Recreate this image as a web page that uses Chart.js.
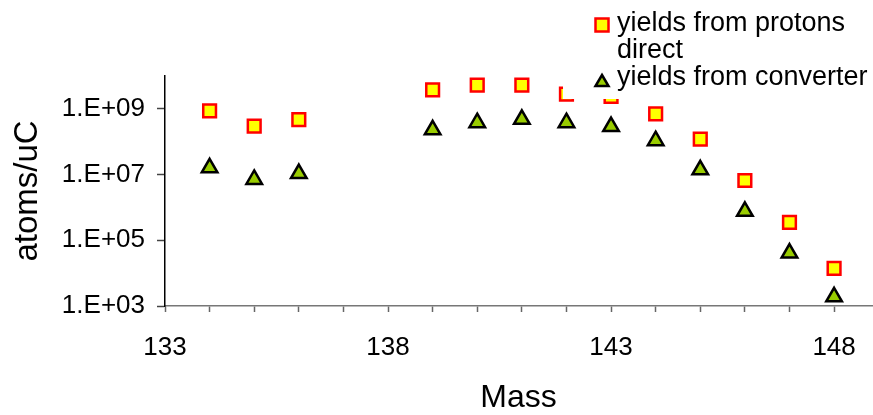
<!DOCTYPE html>
<html>
<head>
<meta charset="utf-8">
<script src="https://cdn.jsdelivr.net/npm/chart.js@4.4.1/dist/chart.umd.min.js"></script>
<style>
  html, body { margin: 0; padding: 0; background: #fff; }
  #wrap { width: 873px; height: 415px; position: relative; }
</style>
</head>
<body>
<div id="wrap"><canvas id="chart"></canvas></div>
<script>
// values
const mass = [134, 135, 136, 139, 140, 141, 142, 143, 144, 145, 146, 147, 148];
const protonsDirect = [8.7e8, 3.0e8, 4.7e8, 3.8e9, 5.3e9, 5.3e9, 2.8e9, 2.4e9, 7.0e8, 1.2e8, 6.6e6, 3.5e5, 1.4e4];
const converter = [1.6e7, 7.1e6, 1.07e7, 2.3e8, 3.8e8, 4.8e8, 3.8e8, 2.9e8, 1.07e8, 1.4e7, 7.6e5, 4.1e4, 1.9e3];

const xTicks = [133, 134, 135, 136, 137, 138, 139, 140, 141, 142, 143, 144, 145, 146, 147, 148];
const xLabels = [133, 138, 143, 148];
const yTicks = [1e3, 1e5, 1e7, 1e9];

const legendLines = [
  ['yields from protons', 'direct'],
  ['yields from converter']
];

const FONT = "'Liberation Sans', Arial, sans-serif";

function toPoints(ys) {
  return mass.map((m, i) => ({ x: m, y: ys[i] }));
}

function expLabel(v) {
  const e = Math.round(Math.log10(v));
  return '1.E+' + String(e).padStart(2, '0');
}

// legend drawn over the plot, like the original
const boxLegend = {
  id: 'boxLegend',
  afterDraw(chart) {
    const ctx = chart.ctx;
    ctx.save();
    ctx.fillStyle = '#fff';
    ctx.fillRect(563, 0, 310, 99);
    ctx.font = '27px ' + FONT;
    ctx.textBaseline = 'middle';
    ctx.textAlign = 'left';
    let y = 24;
    chart.data.datasets.forEach((ds, i) => {
      ctx.fillStyle = ds.backgroundColor;
      ctx.strokeStyle = ds.borderColor;
      ctx.lineWidth = 2.5;
      ctx.beginPath();
      if (ds.pointStyle === 'rect') {
        ctx.rect(595.5, y - 5.5, 13, 13);
      } else {
        ctx.moveTo(602, y - 3);
        ctx.lineTo(608.5, y + 8);
        ctx.lineTo(595.5, y + 8);
        ctx.closePath();
      }
      ctx.fill();
      ctx.stroke();
      ctx.fillStyle = '#000';
      legendLines[i].forEach(t => {
        ctx.fillText(t, 617, y);
        y += 27;
      });
    });
    ctx.restore();
  }
};

new Chart(document.getElementById('chart'), {
  type: 'scatter',
  data: {
    datasets: [
      {
        label: legendLines[0].join(' '),
        data: toPoints(protonsDirect),
        pointStyle: 'rect',
        pointRadius: 9,
        pointHoverRadius: 9,
        backgroundColor: '#ffff00',
        borderColor: '#ff0000',
        borderWidth: 2.5,
        clip: false
      },
      {
        label: legendLines[1][0],
        data: toPoints(converter),
        pointStyle: 'triangle',
        pointRadius: 9,
        pointHoverRadius: 9,
        backgroundColor: '#99cc00',
        borderColor: '#000000',
        borderWidth: 2.5,
        clip: false
      }
    ]
  },
  options: {
    responsive: true,
    maintainAspectRatio: false,
    animation: false,
    layout: { autoPadding: false, padding: { top: 76, right: 1, left: 0, bottom: 0 } },
    plugins: {
      legend: { display: false },
      tooltip: { enabled: false }
    },
    scales: {
      x: {
        type: 'linear',
        min: 133,
        max: 148.85,
        afterBuildTicks: (scale) => { scale.ticks = xTicks.map(v => ({ value: v })); },
        afterFit: (scale) => {
          scale.height = 109;
          scale.paddingLeft = 0;
          scale.paddingRight = 0;
        },
        grid: { drawOnChartArea: false, tickLength: 6, tickColor: '#666', tickWidth: 1.5 },
        border: { color: '#777', width: 1.5 },
        ticks: {
          autoSkip: false,
          maxRotation: 0,
          padding: 20,
          color: '#000',
          font: { family: FONT, size: 26 },
          callback: (v) => xLabels.includes(v) ? String(v) : ''
        },
        title: {
          display: true,
          text: 'Mass',
          color: '#000',
          font: { family: FONT, size: 32, lineHeight: 1 },
          padding: { top: 0, bottom: 1 }
        }
      },
      y: {
        type: 'logarithmic',
        min: 1e3,
        max: 1e10,
        afterBuildTicks: (scale) => { scale.ticks = yTicks.map(v => ({ value: v })); },
        afterFit: (scale) => { scale.width = 165; },
        grid: { drawOnChartArea: false, tickLength: 8, tickColor: '#444', tickWidth: 1.5 },
        border: { color: '#000', width: 1.5 },
        ticks: {
          autoSkip: false,
          padding: 12,
          color: '#000',
          font: { family: FONT, size: 26 },
          callback: (v) => expLabel(v)
        },
        title: {
          display: true,
          text: 'atoms/uC',
          color: '#000',
          font: { family: FONT, size: 33, lineHeight: 1 },
          padding: { top: 11, bottom: 0 }
        }
      }
    }
  },
  plugins: [boxLegend]
});
</script>
</body>
</html>
